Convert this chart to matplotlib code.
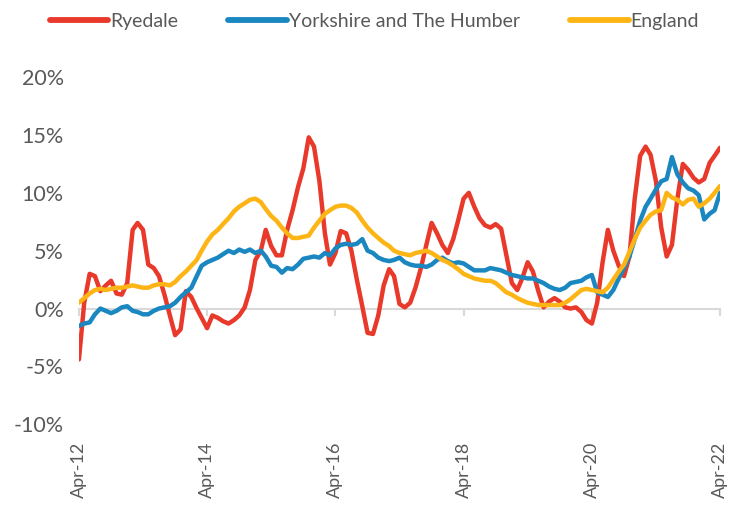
import pandas as pd
import matplotlib.pyplot as plt
import matplotlib.dates as mdates

# monthly % change, Apr-12 .. Apr-22
Ryedale = [
    -4.4, 0.5, 3.0, 2.8, 1.5, 2.0, 2.4, 1.3, 1.2, 2.2, 6.8, 7.4,
    6.8, 3.8, 3.5, 2.8, 1.2, -0.6, -2.3, -1.8, 1.5, 1.0, 0.0, -0.8,
    -1.7, -0.6, -0.8, -1.1, -1.3, -1.0, -0.6, 0.1, 1.6, 4.2, 5.0, 6.8,
    5.4, 4.6, 4.6, 6.8, 8.5, 10.5, 12.1, 14.8, 14.0, 11.0, 6.5, 3.8,
    4.8, 6.7, 6.5, 5.0, 2.5, 0.2, -2.1, -2.2, -0.6, 2.0, 3.4, 2.8,
    0.4, 0.1, 0.5, 1.8, 3.5, 5.5, 7.4, 6.5, 5.5, 4.8, 6.0, 7.6,
    9.5, 10.0, 8.8, 7.8, 7.2, 7.0, 7.3, 6.9, 4.6, 2.2, 1.6, 2.6,
    4.0, 3.2, 1.5, 0.1, 0.6, 0.9, 0.6, 0.1, 0.0, 0.1, -0.3, -1.0,
    -1.3, 0.5, 4.0, 6.8, 5.0, 3.7, 2.8, 4.5, 9.5, 13.2, 14.0, 13.3,
    11.0, 7.0, 4.5, 5.5, 9.5, 12.5, 12.0, 11.3, 10.9, 11.2, 12.6, 13.2,
    13.9
]

Yorkshire = [
    -1.5, -1.3, -1.2, -0.5, 0.0, -0.2, -0.4, -0.2, 0.1, 0.2, -0.2, -0.3,
    -0.5, -0.5, -0.2, 0.0, 0.1, 0.2, 0.5, 1.0, 1.4, 1.8, 2.8, 3.7,
    4.0, 4.2, 4.4, 4.7, 5.0, 4.8, 5.1, 4.9, 5.1, 4.8, 5.0, 4.5,
    3.7, 3.6, 3.1, 3.5, 3.4, 3.8, 4.3, 4.4, 4.5, 4.4, 4.8, 4.6,
    5.2, 5.5, 5.6, 5.5, 5.6, 6.0, 5.0, 4.8, 4.4, 4.2, 4.1, 4.2,
    4.4, 4.0, 3.8, 3.7, 3.7, 3.6, 3.8, 4.2, 4.4, 4.1, 3.9, 4.0,
    3.9, 3.6, 3.3, 3.3, 3.3, 3.5, 3.4, 3.3, 3.1, 2.9, 2.8, 2.7,
    2.6, 2.6, 2.4, 2.2, 1.9, 1.7, 1.6, 1.8, 2.2, 2.3, 2.4, 2.7,
    2.9, 1.4, 1.2, 1.0, 1.6, 2.6, 3.5, 4.5, 6.0, 7.6, 8.8, 9.5,
    10.3, 11.0, 11.2, 13.1, 11.6, 10.9, 10.4, 10.2, 9.8, 7.7, 8.2, 8.5,
    10.0
]

England = [
    0.5, 0.9, 1.3, 1.6, 1.7, 1.6, 1.7, 1.8, 1.8, 1.9, 2.0, 1.9,
    1.8, 1.8, 2.0, 2.1, 2.1, 2.0, 2.3, 2.8, 3.2, 3.7, 4.2, 5.0,
    5.8, 6.4, 6.8, 7.3, 7.8, 8.4, 8.8, 9.1, 9.4, 9.5, 9.2, 8.6,
    8.0, 7.6, 7.0, 6.5, 6.1, 6.1, 6.2, 6.3, 7.0, 7.6, 8.2, 8.5,
    8.8, 8.9, 8.9, 8.7, 8.3, 7.6, 7.0, 6.5, 6.1, 5.7, 5.4, 5.0,
    4.8, 4.7, 4.6, 4.8, 4.9, 5.0, 4.8, 4.5, 4.2, 4.0, 3.7, 3.4,
    3.0, 2.8, 2.6, 2.5, 2.4, 2.4, 2.2, 1.8, 1.4, 1.2, 0.9, 0.7,
    0.5, 0.4, 0.3, 0.3, 0.3, 0.3, 0.3, 0.5, 0.8, 1.2, 1.6, 1.7,
    1.6, 1.5, 1.4, 1.8, 2.5, 3.2, 3.8, 4.9, 6.0, 7.0, 7.6, 8.1,
    8.4, 8.5, 10.0, 9.6, 9.4, 9.0, 9.4, 9.5, 8.8, 9.1, 9.5, 10.0,
    10.6
]

dates = pd.date_range("2012-04-01", periods=len(Ryedale), freq="MS")
tick_dates = pd.date_range("2012-04-01", "2022-04-01", freq="24MS")

plt.rcParams['font.family'] = ['Lato', 'DejaVu Sans']
grey = "#595959"

fig = plt.figure(figsize=(7.31, 5.08), dpi=100)
ax = fig.add_axes([0.108, 0.165, 0.877, 0.683])

ax.plot(dates, Ryedale, color="#E8392A", linewidth=3.2, label="Ryedale", solid_capstyle="round")
ax.plot(dates, Yorkshire, color="#1B87C1", linewidth=3.2, label="Yorkshire and The Humber", solid_capstyle="round")
ax.plot(dates, England, color="#FDB515", linewidth=3.2, label="England", solid_capstyle="round")

ax.set_ylim(-10, 20)
ax.set_yticks(range(-10, 21, 5))
ax.set_yticklabels([f"{v}%" for v in range(-10, 21, 5)])
ax.set_xlim(dates[0], dates[-1])
ax.set_xticks(tick_dates)
ax.xaxis.set_major_formatter(mdates.DateFormatter("%b-%y"))

for s in ["top", "right", "left"]:
    ax.spines[s].set_visible(False)
ax.spines["bottom"].set_position(("data", 0))
ax.spines["bottom"].set_color("#D9D9D9")
ax.spines["bottom"].set_linewidth(1.5)
ax.spines["bottom"].set_zorder(0)

ax.tick_params(axis="y", length=0, pad=11, labelsize=15.5, labelcolor=grey)
ax.tick_params(axis="x", direction="out", length=5, width=1.5, color="#D9D9D9",
               pad=91, labelsize=13, labelcolor=grey, labelrotation=90)

leg = fig.legend(loc="center", bbox_to_anchor=(0.512, 0.958), ncol=3, frameon=False,
                 fontsize=14, labelcolor=grey, handlelength=3.0, handletextpad=0.1,
                 columnspacing=2.6)
for line in leg.get_lines():
    line.set_linewidth(4.2)

fig.savefig("out.png", dpi=100)
